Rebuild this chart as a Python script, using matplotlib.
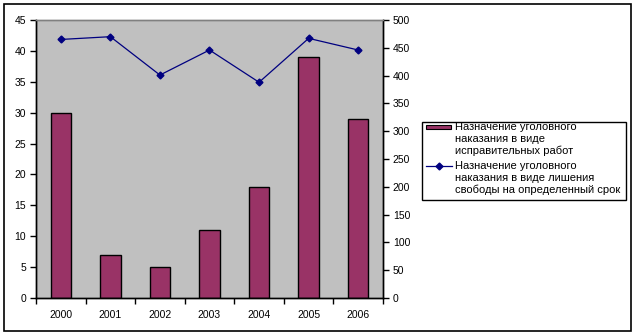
import matplotlib.pyplot as plt
import matplotlib.patches as mpatches
from matplotlib.lines import Line2D
import numpy as np

plt.rcParams["font.family"] = ["Liberation Sans", "DejaVu Sans"]

years = ["2000", "2001", "2002", "2003", "2004", "2005", "2006"]
correctional_work = [30, 7, 5, 11, 18, 39, 29]
imprisonment = [465, 470, 401, 446, 388, 467, 446]

bar_label = ["Назначение уголовного", "наказания в виде", "исправительных работ"]
line_label = ["Назначение уголовного", "наказания в виде лишения",
              "свободы на определенный срок"]

BAR_COLOR = "#993366"
LINE_COLOR = "#000080"

W, H = 635, 335
fig = plt.figure(figsize=(W / 100, H / 100), dpi=100)
fig.patch.set_facecolor("white")


def fx(px):
    return px / W


def fy(py):
    # pixel rows are counted from the top
    return 1 - py / H


# outer chart frame
fig.patches.append(mpatches.Rectangle((fx(4), fy(331)), 627 / W, 327 / H,
                                      transform=fig.transFigure, fill=False,
                                      edgecolor="black", linewidth=1.2))

left, right, top, bottom = 36, 383, 20, 298
ax = fig.add_axes([fx(left), fy(bottom), (right - left) / W, (bottom - top) / H])
ax.set_facecolor("#c0c0c0")

x = np.arange(len(years))
ax.bar(x, correctional_work, width=0.41, color=BAR_COLOR,
       edgecolor="black", linewidth=1, zorder=2)
ax.set_xlim(-0.5, len(years) - 0.5)
ax.set_ylim(0, 45)
ax.set_yticks(np.arange(0, 46, 5))
ax.set_xticks(x)
ax.set_xticklabels(years)
ax.set_xticks(np.arange(-0.5, len(years), 1), minor=True)
ax.tick_params(axis="x", which="major", length=0, pad=9, labelsize=7.5)
ax.tick_params(axis="x", which="minor", length=4, width=1, direction="out")
ax.tick_params(axis="y", length=4, width=1, direction="out", pad=3, labelsize=7.5)

ax2 = ax.twinx()
ax2.plot(x, imprisonment, color=LINE_COLOR, linewidth=0.9,
         marker="D", markersize=3.5, zorder=3)
ax2.set_ylim(0, 500)
ax2.set_yticks(np.arange(0, 501, 50))
ax2.tick_params(axis="y", length=4, width=1, direction="out", pad=3, labelsize=7.5)

for a in (ax, ax2):
    a.spines["top"].set_color("#808080")
    a.spines["top"].set_linewidth(1)
    for s in ("left", "right", "bottom"):
        a.spines[s].set_linewidth(1)

# legend drawn by hand: framed box, handle beside the first line of each entry
fig.patches.append(mpatches.Rectangle((fx(422), fy(200)), 204 / W, 78 / H,
                                      transform=fig.transFigure, facecolor="white",
                                      edgecolor="black", linewidth=1))
fig.patches.append(mpatches.Rectangle((fx(426), fy(128.5)), 25 / W, 3.5 / H,
                                      transform=fig.transFigure, facecolor=BAR_COLOR,
                                      edgecolor="black", linewidth=0.8))
fig.lines.append(Line2D([fx(426), fx(452)], [fy(166), fy(166)],
                        transform=fig.transFigure, color=LINE_COLOR, linewidth=0.9))
fig.lines.append(Line2D([fx(439)], [fy(166)], transform=fig.transFigure,
                        color=LINE_COLOR, marker="D", markersize=3.5))

for rows, y0 in ((bar_label, 127), (line_label, 166)):
    for i, row in enumerate(rows):
        fig.text(fx(455), fy(y0 + i * 12), row, fontsize=8,
                 ha="left", va="center")

fig.savefig("out.png", dpi=100)
